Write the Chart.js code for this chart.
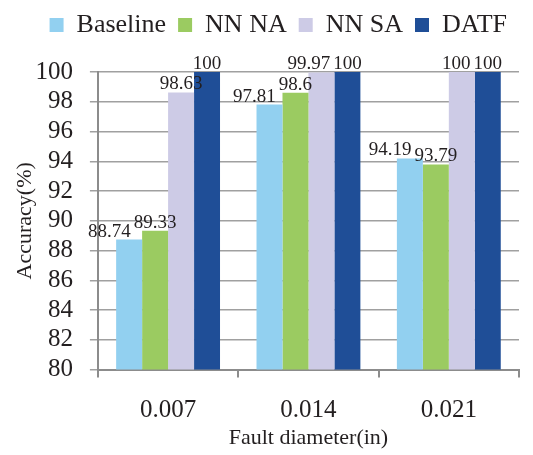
<!DOCTYPE html>
<html>
<head>
<meta charset="utf-8">
<script src="https://cdn.jsdelivr.net/npm/chart.js@4.4.1/dist/chart.umd.min.js"></script>
<style>
  html, body { margin: 0; padding: 0; background: #fff; }
  #wrap { width: 533px; height: 455px; }
</style>
</head>
<body>
<div id="wrap"><canvas id="chart" width="533" height="455"></canvas></div>
<script>
// chart data
const categories = ['0.007', '0.014', '0.021'];
const seriesNames = ['Baseline', 'NN NA', 'NN SA', 'DATF'];
const baseline = [88.74, 97.81, 94.19];
const nnNA = [89.33, 98.6, 93.79];
const nnSA = [98.63, 99.97, 100];
const datf = [100, 100, 100];
const yTicks = [80, 82, 84, 86, 88, 90, 92, 94, 96, 98, 100];

const colors = ['#92D0F0', '#9BCB61', '#CDCBE6', '#1F4E97'];
const serif = '"Liberation Serif", "Times New Roman", serif';
const textColor = '#231f20';

// leave room between legend and plot for the labels on the 100% bars
const legendGap = {
    id: 'legendGap',
    beforeInit(chart) {
        const fit = chart.legend.fit;
        chart.legend.fit = function () {
            fit.call(this);
            this.height += 24;
        };
    }
};

// value labels over bars, nudged left when they bump into a neighbour
const valueLabels = {
    id: 'valueLabels',
    afterDatasetsDraw(chart) {
        const ctx = chart.ctx;
        ctx.save();
        ctx.font = '19px ' + serif;
        ctx.fillStyle = textColor;
        ctx.textAlign = 'center';
        ctx.textBaseline = 'alphabetic';

        categories.forEach((cat, j) => {
            const boxes = chart.data.datasets.map((ds, i) => {
                const bar = chart.getDatasetMeta(i).data[j];
                const text = String(ds.data[j]);
                const w = ctx.measureText(text).width;
                const base = bar.y - 3;
                return { text, x: bar.x, w, base, top: base - 14, bottom: base };
            });

            for (let k = boxes.length - 2; k >= 0; k--) {
                const b = boxes[k];
                for (let m = k + 1; m < boxes.length; m++) {
                    const o = boxes[m];
                    const vOverlap = b.top < o.bottom + 2 && b.bottom > o.top - 2;
                    const limit = o.x - o.w / 2 - 3;
                    if (vOverlap && b.x + b.w / 2 > limit) {
                        b.x = limit - b.w / 2;
                    }
                }
            }

            boxes.forEach(b => ctx.fillText(b.text, b.x, b.base));
        });
        ctx.restore();
    }
};

const ctx = document.getElementById('chart').getContext('2d');

new Chart(ctx, {
    type: 'bar',
    data: {
        labels: categories,
        datasets: [baseline, nnNA, nnSA, datf].map((values, i) => ({
            label: seriesNames[i],
            data: values,
            backgroundColor: colors[i],
            borderWidth: 0,
            categoryPercentage: 0.74,
            barPercentage: 1.0
        }))
    },
    options: {
        responsive: false,
        animation: false,
        layout: {
            padding: { left: 0, right: 14, top: 0, bottom: 2 }
        },
        plugins: {
            legend: {
                position: 'top',
                align: 'end',
                labels: {
                    font: { family: serif, size: 26 },
                    color: textColor,
                    boxWidth: 14,
                    boxHeight: 14,
                    padding: 12
                }
            },
            tooltip: { enabled: false }
        },
        scales: {
            x: {
                grid: {
                    offset: true,
                    drawOnChartArea: false,
                    color: '#8c8c8c',
                    lineWidth: 2,
                    tickLength: 8
                },
                border: { color: '#8c8c8c', width: 2 },
                ticks: {
                    font: { family: serif, size: 25 },
                    color: textColor,
                    padding: 18
                },
                title: {
                    display: true,
                    text: 'Fault diameter(in)',
                    font: { family: serif, size: 22 },
                    color: textColor,
                    padding: { top: -19, bottom: 2 }
                }
            },
            y: {
                min: 80,
                max: 100,
                afterBuildTicks(axis) {
                    axis.ticks = yTicks.map(v => ({ value: v }));
                },
                grid: {
                    color: '#a0a0a0',
                    lineWidth: 1.5,
                    tickLength: 8
                },
                border: { color: '#8c8c8c', width: 2 },
                ticks: {
                    font: { family: serif, size: 25 },
                    color: textColor,
                    padding: 17,
                    autoSkip: false
                },
                title: {
                    display: true,
                    text: 'Accuracy(%)',
                    font: { family: serif, size: 22 },
                    color: textColor,
                    padding: { top: 12, bottom: -20 }
                }
            }
        }
    },
    plugins: [legendGap, valueLabels]
});
</script>
</body>
</html>
